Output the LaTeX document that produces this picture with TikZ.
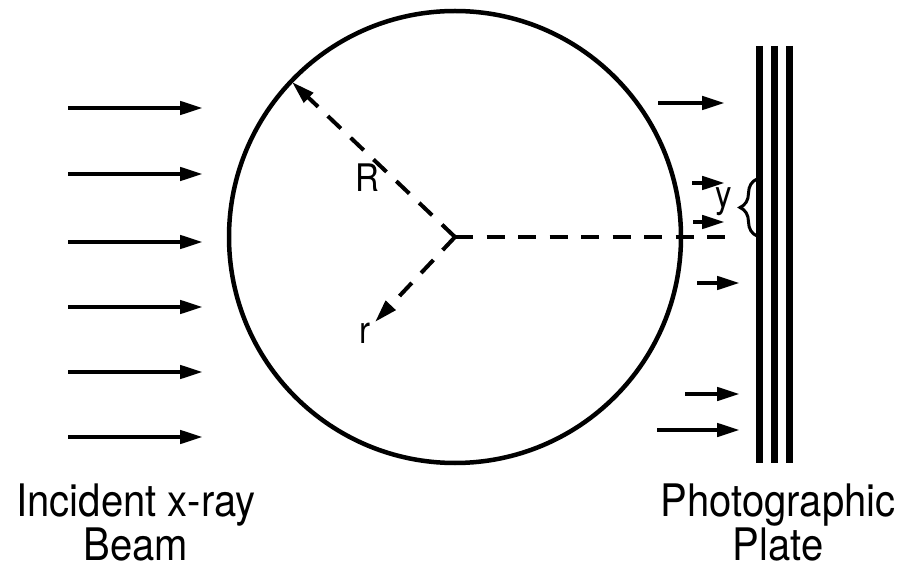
\documentclass[tikz,border=0pt]{standalone}
\usepackage{fontspec}
\setmainfont{TeX Gyre Heros}
\usetikzlibrary{arrows.meta, calc, decorations.pathreplacing}

\begin{document}
\begin{tikzpicture}[
    % Global Styles
    x=1pt, y=-1pt,
    >={Triangle[length=23pt, width=13pt]},
    % Lines
    beam/.style={line width=4.5pt, ->},
    dashline/.style={line width=4pt, dash pattern=on 18pt off 13.5pt},
    sphere/.style={line width=4.5pt},
    plateline/.style={line width=7pt},
    % Text
    biglabel/.style={font=\fontsize{40}{36}\selectfont, yscale=1.12, align=center, inner sep=0pt, text depth=0pt},
    smalllabel/.style={font=\fontsize{33}{38}\selectfont, yscale=1.15, inner sep=0pt, anchor=base}
]
    \useasboundingbox (0,0) rectangle (910,569);

    % --- Sphere ---
    \coordinate (c) at (455,237);
    \coordinate (Rtip) at (292,82);
    \coordinate (rtip) at (375,322);
    \coordinate (ytip) at (727,237);
    \draw[sphere] (c) circle[radius=226pt];

    % --- Incident beam (left) ---
    \foreach \y in {108,174,242,307,372,437}
        \draw[beam] (68,\y) -- (203,\y);

    % --- Scattered beam (right) ---
    \foreach \xa/\xb/\y in {658/725/103, 692/725/183, 693/725/222, 697/740/283, 685/740/394, 657/740/430}
        \draw[beam] (\xa,\y) -- (\xb,\y);

    % --- Radii ---
    \draw[dashline, ->] (c) -- (Rtip);
    \draw[dashline, ->] (c) -- (rtip);
    \draw[dashline] (c) -- (ytip);

    % --- Photographic plate ---
    \foreach \x in {759,774,789}
        \draw[plateline] (\x,46) -- (\x,463);

    % --- Brace for y ---
    \draw[line width=3pt, decorate, decoration={brace, amplitude=17pt, aspect=0.5}] (757,236) -- (757,179);

    % --- Labels ---
    \node[smalllabel] (labR) at (367,192) {R};
    \node[smalllabel] (labr) at (365,343) {r};
    \node[smalllabel] (laby) at (724,208) {y};

    \node[biglabel, anchor=north] (beamtext) at (136,484) {Incident x-ray\\Beam};
    \node[biglabel, anchor=north] (platetext) at (778,484) {Photographic\\Plate};

\end{tikzpicture}
\end{document}
